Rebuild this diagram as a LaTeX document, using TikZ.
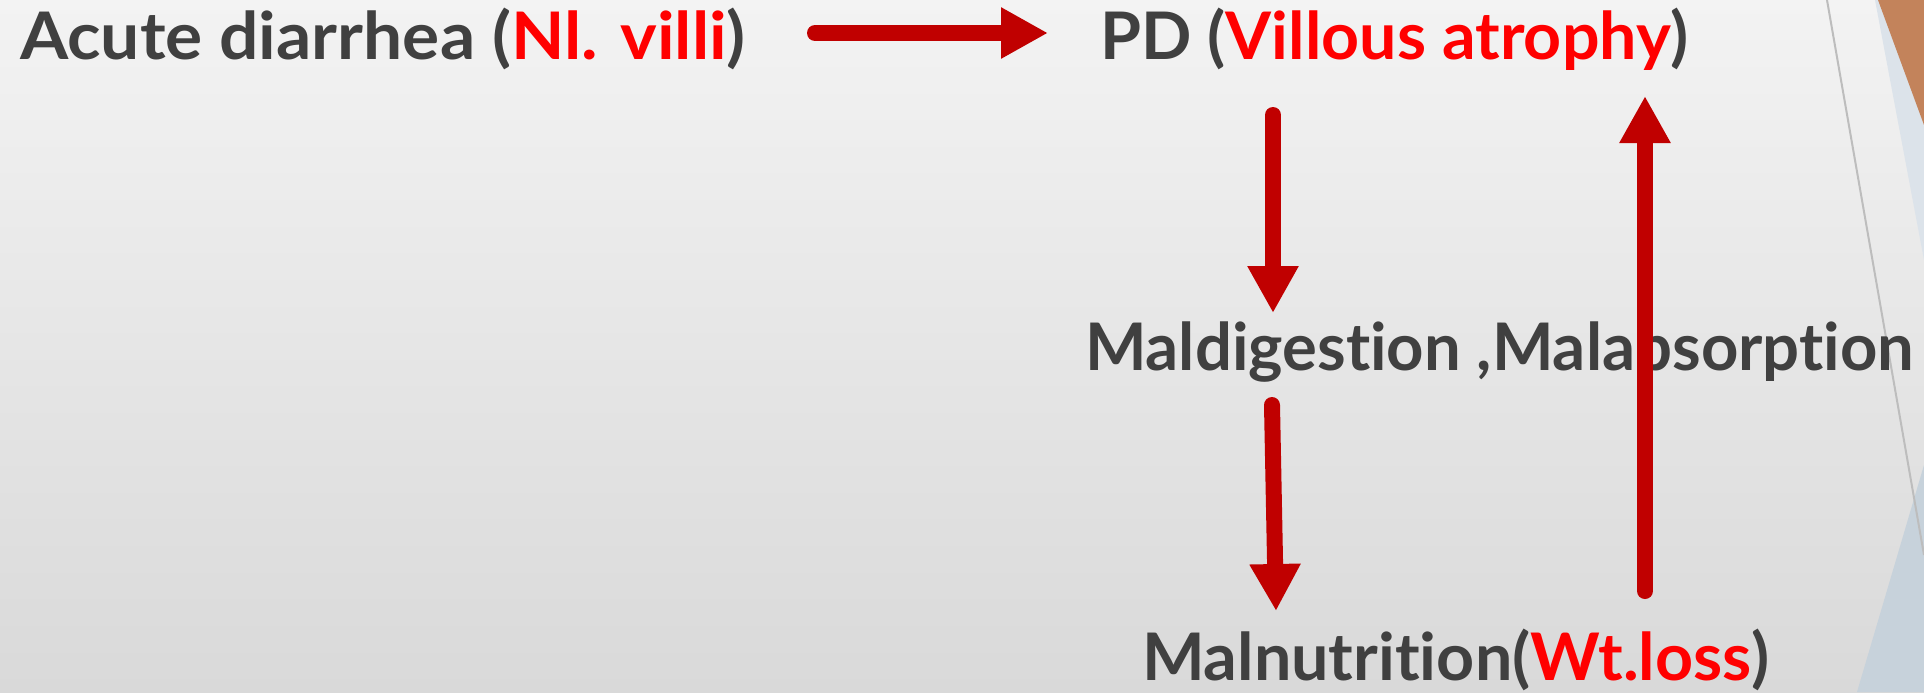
\documentclass[tikz,border=0pt]{standalone}
\usepackage{fontspec}
\setmainfont{Lato}[Ligatures={NoCommon,NoContextual}]
\usepackage{graphicx}
\usetikzlibrary{arrows.meta}
\definecolor{txtgray}{HTML}{404040}
\definecolor{txtred}{HTML}{FF0000}
\definecolor{arrred}{HTML}{C00000}
\definecolor{bgtop}{HTML}{F3F3F3}
\definecolor{bgbot}{HTML}{D9D9D9}
\definecolor{bandblue}{HTML}{DCE3EA}
\definecolor{brownish}{HTML}{C3835B}
\definecolor{lowblue}{HTML}{C7D2DB}
\definecolor{thinline}{HTML}{BDBDBD}
\tikzset{
  lbl/.style={anchor=base west, inner sep=0pt, outer sep=0pt, text=txtgray,
    font=\fontsize{32.8pt}{40pt}\selectfont\bfseries},
  bigarrow/.style={draw=arrred, line width=8pt, line cap=round,
    -{Triangle[width=24pt,length=23.5pt]}, arrred},
}
\newcommand{\fitw}[2]{\resizebox{#1}{\height}{#2}}
\newcommand{\rd}[1]{\textcolor{txtred}{#1}}
\begin{document}
\begin{tikzpicture}[x=0.5pt,y=-0.5pt]
\useasboundingbox (0,0) rectangle (1924,692);
\shade[top color=bgtop, bottom color=bgbot] (0,0) rectangle (1924,692);
% right-side decorations
\fill[bandblue] (1875,0) -- (1924,0) -- (1924,260) -- cycle;
\fill[brownish] (1878,0) -- (1924,0) -- (1924,125) -- cycle;
\fill[lowblue] (1924,465) -- (1924,692) -- (1857,692) -- cycle;
\draw[thinline, line width=1pt] (1827,0) -- (1924,555);
% texts
\node[lbl] (acute) at (20,59) {\fitw{363pt}{Acute diarrhea (\rd{Nl. villi})}};
\node[lbl] (pd) at (1100,59) {\fitw{294.5pt}{PD (\rd{Villous atrophy})}};
\node[lbl] (mal) at (1085,370) {\fitw{414.5pt}{Maldigestion ,Malabsorption}};
\node[lbl] (nut) at (1142,680) {\fitw{314pt}{Malnutrition(\rd{Wt.loss})}};
% arrow ends
\coordinate (a1s) at (815,33);
\coordinate (a1e) at (1048,33);
\coordinate (a2s) at (1273,115);
\coordinate (a2e) at (1273,313);
\coordinate (a3s) at (1272,405);
\coordinate (a3e) at (1276,611);
\coordinate (a4s) at (1645,591);
\coordinate (a4e) at (1645,96);
\draw[bigarrow] (a1s) -- (a1e);
\draw[bigarrow] (a2s) -- (a2e);
\draw[bigarrow] (a3s) -- (a3e);
\draw[bigarrow] (a4s) -- (a4e);
\end{tikzpicture}
\end{document}
